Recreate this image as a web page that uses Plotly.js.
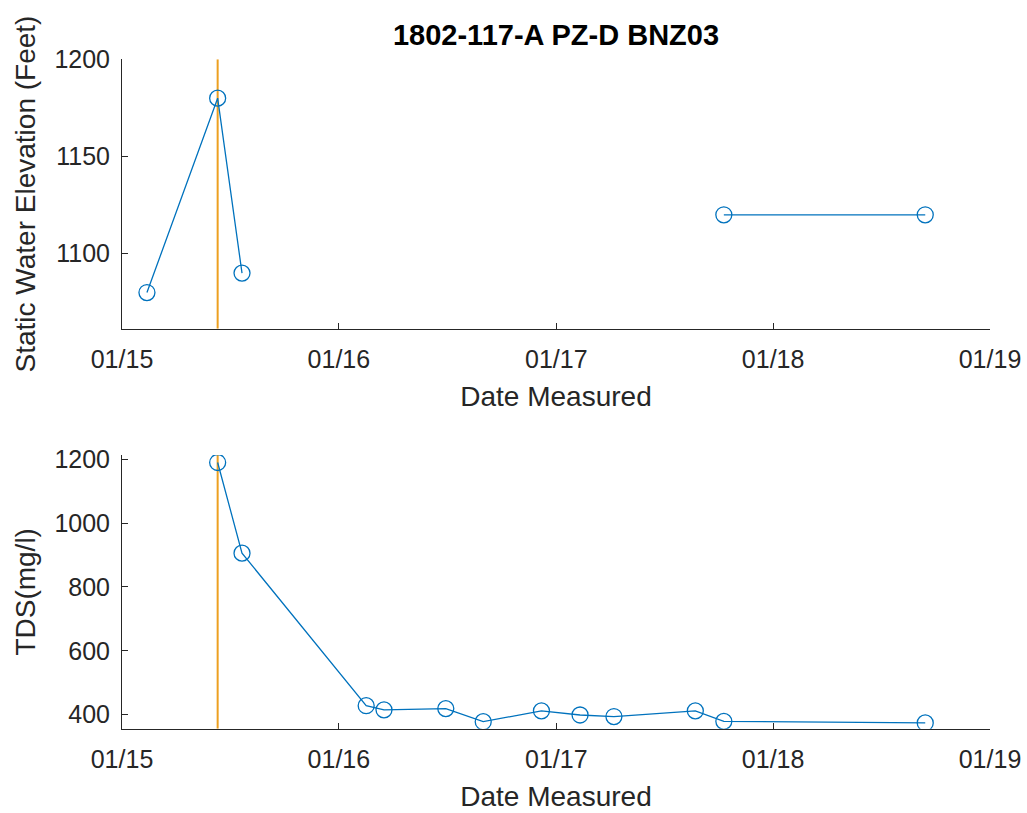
<!DOCTYPE html>
<html>
<head>
<meta charset="utf-8">
<script src="https://cdn.plot.ly/plotly-3.0.1.min.js"></script>
<style>html,body{margin:0;padding:0;background:#fff;}#chart{width:1027px;height:813px;}</style>
</head>
<body>
<div id="chart"></div>
<script>
// Static water elevation (top panel); null marks a gap in the record
const elevDates = ['2015-02-12', '2015-06-11', '2015-07-22', null, '2017-10-10', '2018-09-14'];
const elevValues = [1080, 1180, 1090, null, 1120, 1120];

// TDS (bottom panel)
const tdsDates = ['2015-06-11', '2015-07-22', '2016-02-16', '2016-03-17', '2016-06-29', '2016-08-31',
                  '2016-12-07', '2017-02-10', '2017-04-08', '2017-08-23', '2017-10-10', '2018-09-14'];
const tdsValues = [1190, 906, 428, 415, 419, 378, 412, 399, 394, 412, 379, 374];

// Event marker date (vertical line)
const eventDate = '2015-06-11';

// Axis ranges and ticks
const xRange = ['2015-01-01', '2019-01-01'];
const xTickVals = ['2015-01-01', '2016-01-01', '2017-01-01', '2018-01-01', '2019-01-01'];
const xTickText = ['01/15', '01/16', '01/17', '01/18', '01/19'];
const elevRange = [1061.4, 1200];
const elevTicks = [1100, 1150, 1200];
const tdsRange = [356, 1213.5];
const tdsTicks = [400, 600, 800, 1000, 1200];

const titleText = '1802-117-A PZ-D BNZ03';
const xLabel = 'Date Measured';
const elevLabel = 'Static Water Elevation (Feet)';
const tdsLabel = 'TDS(mg/l)';

const blue = '#0072BD';
const orange = '#EDA020';
const axisColor = '#262626';
const font = 'Liberation Sans, Arial, Helvetica, sans-serif';

const traces = [
  {x: [eventDate, eventDate], y: elevRange, xaxis: 'x', yaxis: 'y', mode: 'lines',
   line: {color: orange, width: 2}, hoverinfo: 'skip'},
  {x: elevDates, y: elevValues, xaxis: 'x', yaxis: 'y', mode: 'lines+markers', connectgaps: false,
   line: {color: blue, width: 1.3},
   marker: {symbol: 'circle-open', size: 16, color: blue, line: {width: 1.3, color: blue}}},
  {x: [eventDate, eventDate], y: tdsRange, xaxis: 'x2', yaxis: 'y2', mode: 'lines',
   line: {color: orange, width: 2}, hoverinfo: 'skip'},
  {x: tdsDates, y: tdsValues, xaxis: 'x2', yaxis: 'y2', mode: 'lines+markers',
   line: {color: blue, width: 1.3},
   marker: {symbol: 'circle-open', size: 16, color: blue, line: {width: 1.3, color: blue}}}
];

function xAxis(anchor) {
  return {
    type: 'date', range: xRange, domain: [122/1027, 990/1027], anchor: anchor,
    tickmode: 'array', tickvals: xTickVals, ticktext: xTickText,
    ticks: 'inside', ticklen: 6, tickwidth: 1, tickcolor: axisColor,
    showline: true, linecolor: axisColor, linewidth: 1, showgrid: false, zeroline: false,
    tickfont: {family: font, size: 25, color: '#262626'}, ticklabelstandoff: 8,
    title: {text: xLabel, font: {family: font, size: 28, color: '#262626'}, standoff: 14},
    automargin: false
  };
}
function yAxis(anchor, range, ticks, label, dom) {
  return {
    range: range, domain: dom, anchor: anchor,
    tickmode: 'array', tickvals: ticks,
    ticks: 'inside', ticklen: 6, tickwidth: 1, tickcolor: axisColor,
    showline: true, linecolor: axisColor, linewidth: 1, showgrid: false, zeroline: false,
    tickfont: {family: font, size: 25, color: '#262626'}, ticklabelstandoff: 6,
    title: {text: label, font: {family: font, size: 28, color: '#262626'}, standoff: 10},
    automargin: false
  };
}

const layout = {
  width: 1027, height: 813,
  margin: {l: 0, r: 0, t: 0, b: 0},
  paper_bgcolor: '#ffffff', plot_bgcolor: '#ffffff',
  showlegend: false,
  title: {text: '<b>' + titleText + '</b>', font: {family: font, size: 29, color: '#000000'},
          x: 556/1027, xanchor: 'center', y: 1 - 35/813, yanchor: 'middle'},
  xaxis: xAxis('y'),
  yaxis: yAxis('x', elevRange, elevTicks, elevLabel, [1 - 328.7/813, 1 - 59.3/813]),
  xaxis2: xAxis('y2'),
  yaxis2: yAxis('x2', tdsRange, tdsTicks, tdsLabel, [1 - 728.7/813, 1 - 455/813])
};

Plotly.newPlot('chart', traces, layout, {staticPlot: true, displayModeBar: false});
</script>
</body>
</html>
